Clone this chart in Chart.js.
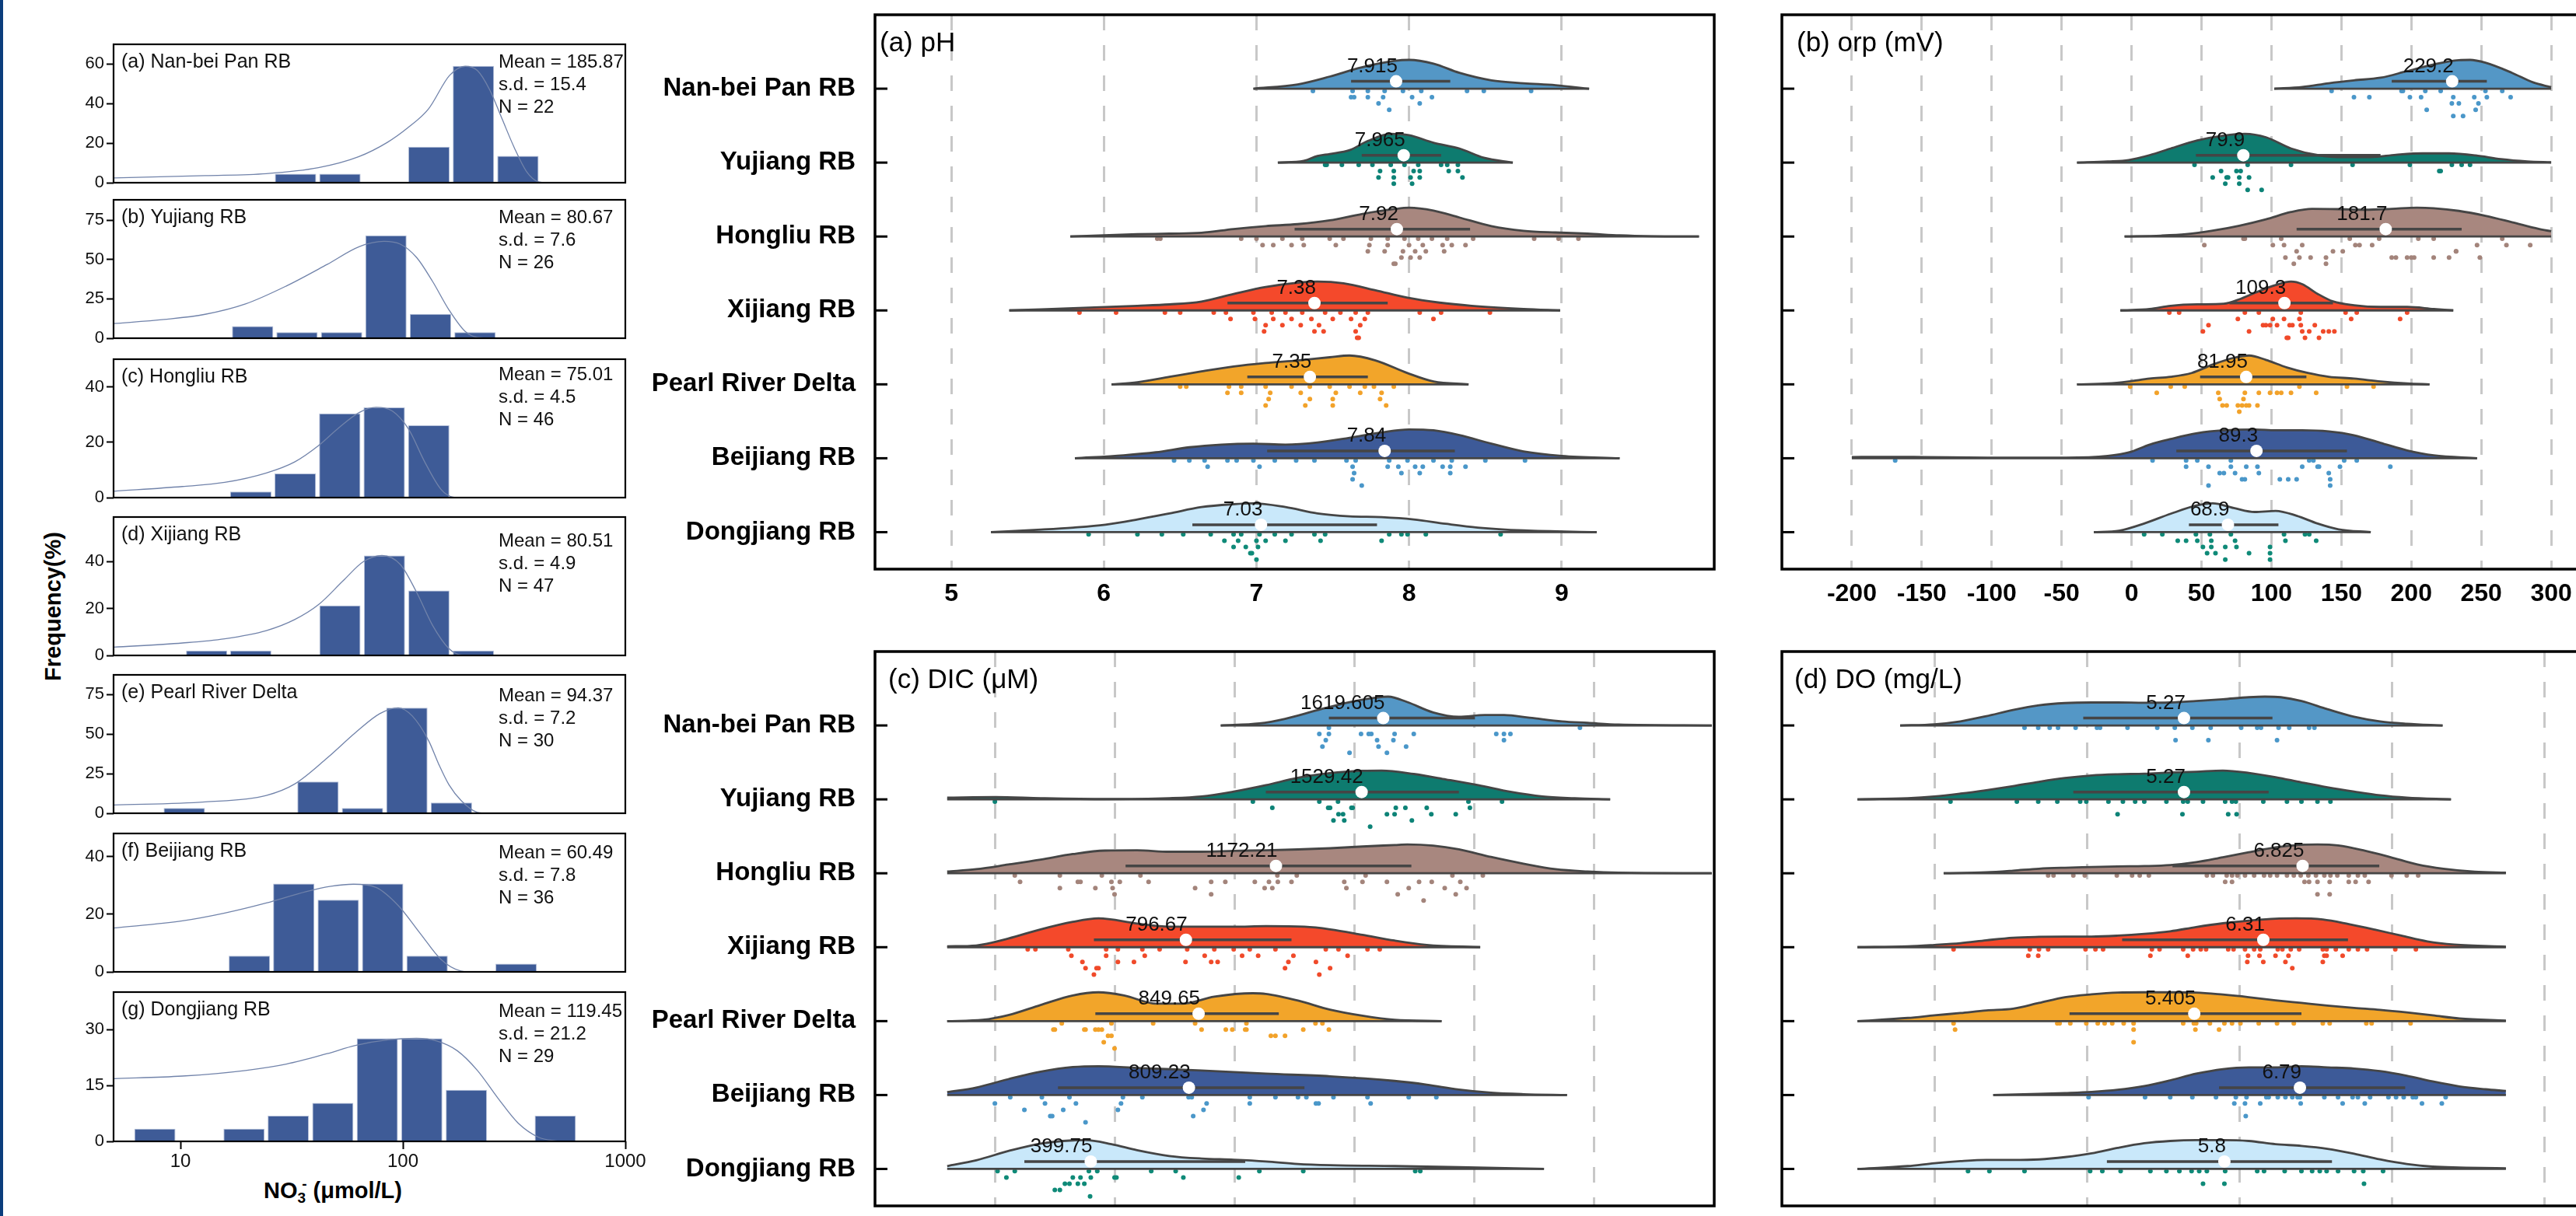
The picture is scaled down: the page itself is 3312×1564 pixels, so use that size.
<!DOCTYPE html>
<html><head><meta charset="utf-8">
<script src="https://cdn.jsdelivr.net/npm/chart.js@4.4.1/dist/chart.umd.min.js"></script>
<style>
html,body{margin:0;padding:0;width:3312px;height:1564px;overflow:hidden;background:#fff;font-family:"Liberation Sans",Arial,sans-serif;}
#band{position:absolute;left:0;top:0;width:4px;height:1564px;background:#0b3d7c;}
#ylab{position:absolute;left:68px;top:780px;transform:translate(-50%,-50%) rotate(-90deg);font-weight:bold;font-size:29px;white-space:nowrap;color:#000;}
#xlab{position:absolute;left:428px;top:1532px;transform:translate(-50%,-50%);font-weight:bold;font-size:29px;white-space:nowrap;color:#000;}
#xlab sub{font-size:19px;vertical-align:-6px;}
#xlab sup{font-size:19px;vertical-align:12px;margin-left:-5px;}
</style></head>
<body>
<div id="band"></div>
<div id="ylab">Frequency(%)</div>
<div id="xlab">NO<sub>3</sub><sup>-</sup> (μmol/L)</div>
<script>
// ---------------- DATA ----------------
const regions = ['Nan-bei Pan RB','Yujiang RB','Hongliu RB','Xijiang RB','Pearl River Delta','Beijiang RB','Dongjiang RB'];
const panelTitles = ['(a) pH','(b) orp (mV)','(c) DIC (μM)','(d) DO (mg/L)'];

// Histograms of NO3- (log bins), percent of samples
const histTitles = ['(a) Nan-bei Pan RB','(b) Yujiang RB','(c) Hongliu RB','(d) Xijiang RB','(e) Pearl River Delta','(f) Beijiang RB','(g) Dongjiang RB'];
const histMean = ['185.87','80.67','75.01','80.51','94.37','60.49','119.45'];
const histSD = ['15.4','7.6','4.5','4.9','7.2','7.8','21.2'];
const histN = [22,26,46,47,30,36,29];
const histBinX = [
 [32.9,52.1,130.9,207.5,328.9],
 [21.1,33.4,53.0,83.9,133.0,210.9],
 [20.7,32.8,52.0,82.4,130.6],
 [13.1,20.7,52.1,82.6,130.9,207.5],
 [10.4,41.5,65.8,104.2,165.2],
 [20.4,32.3,51.2,81.1,128.5,322.8],
 [7.67,19.3,30.5,48.4,76.7,121.6,192.8,484.2]
];
const histPct = [
 [4.5,4.5,18.2,59.1,13.6],
 [7.7,3.8,3.8,65.4,15.4,3.8],
 [2.2,8.7,30.4,32.6,26.1],
 [2.1,2.1,21.3,42.6,27.7,2.1],
 [3.3,20.0,3.3,66.7,6.7],
 [5.6,30.6,25.0,30.6,5.6,2.8],
 [3.4,3.4,6.9,10.3,27.6,27.6,13.8,6.9]
];
const histCurveX = [
 [5,12.9,24.3,41.7,63.1,85.1,104.7,130.3,162.2,190.5,216.3,245.5,278.6,316.2,358.9,407.4,436.5],
 [5,8.43,12.9,19.6,29.9,45.6,63.8,82.2,97.3,115.1,135.8,161.1,190.5,216.3,245.5],
 [5,10.2,15.8,24.3,32.6,41.9,51.6,63.8,75.7,89.5,105.9,125.3,148.3,167.9,182],
 [5,10.2,15.8,24.3,32.6,41.9,53.8,66.5,80.5,97.3,115.1,135.8,161.1,182,199.5],
 [5,12.9,24.3,32.6,45.7,61.2,78.7,95.3,110.2,130.6,144.9,161.1,182.8,216.3,234.4],
 [5,10.2,15.8,24.3,36.9,47.5,60.0,75.7,95.3,120,148.3,182,204],
 [5,10.2,19.6,29.9,45.6,61.2,85.7,115.1,141.9,175.4,216.3,267.3,329.6,407.4,501.2]
];
const histCurveY = [
 [2.4,3.6,4.6,7.6,13.1,20.4,27.6,37.3,54.3,58.9,56.7,47,32.5,17.9,5.8,0.4,0],
 [9.3,11.9,15.2,21.8,33.2,46.9,58.3,61.6,59.8,51.4,36.2,18,4.3,0.5,0],
 [2.3,4.0,5.5,8.9,12.9,18.9,25.3,30.8,32.6,31.3,24.8,12.9,3.0,0.2,0],
 [3.5,5.3,7.1,10.6,15.3,21.8,31.8,40,42.6,38.8,27,12.9,2.9,0.2,0],
 [5.2,7.2,11.3,18.5,35,51,63,66.7,61.5,45.8,31,18,8,0.5,0],
 [15.2,17.7,20.4,23.9,27.9,29.7,30.4,29.3,23,13.2,4.3,0.3,0],
 [16.8,17.5,19,20.7,23.5,25.7,27.2,27.6,26.9,24.3,19,11.6,4.9,1.1,0]
];
const histYMax = [70,88,50,59,87.5,48,40];
const histYTicks = [[0,20,40,60],[0,25,50,75],[0,20,40],[0,20,40],[0,25,50,75],[0,20,40],[0,15,30]];
const histXTicks = [10,100,1000];

// ---- (a) pH ----
const phTicks = [5,6,7,8,9];
const phMedian = [7.915,7.965,7.92,7.38,7.35,7.84,7.03];
const phBox = [[7.62,8.27],[7.69,8.21],[7.25,8.40],[6.81,7.86],[6.94,7.73],[7.07,8.30],[6.58,7.79]];
const phKde = [
 [[6.98,0],[7.27,0.15],[7.48,0.42],[7.69,0.74],[7.90,0.96],[8.00,1],[8.16,0.87],[8.33,0.55],[8.54,0.29],[8.75,0.19],[8.96,0.12],[9.18,0]],
 [[7.14,0],[7.31,0.06],[7.40,0.23],[7.48,0.30],[7.61,0.43],[7.73,0.75],[7.88,1],[8.00,0.95],[8.16,0.69],[8.33,0.49],[8.49,0.17],[8.68,0]],
 [[5.78,0],[6.22,0.08],[6.43,0.10],[6.64,0.13],[6.85,0.26],[7.06,0.36],[7.27,0.43],[7.48,0.56],[7.69,0.78],[7.90,0.95],[8.00,1],[8.16,0.9],[8.33,0.66],[8.54,0.36],[8.75,0.2],[8.96,0.14],[9.17,0.1],[9.38,0.04],[9.59,0.01],[9.90,0]],
 [[5.38,0],[5.80,0.08],[6.22,0.16],[6.43,0.21],[6.64,0.31],[6.85,0.57],[7.06,0.81],[7.27,0.96],[7.40,1],[7.57,0.94],[7.78,0.70],[7.99,0.44],[8.20,0.27],[8.41,0.16],[8.75,0.05],[8.99,0]],
 [[6.05,0],[6.22,0.07],[6.43,0.26],[6.64,0.45],[6.85,0.62],[7.06,0.74],[7.27,0.83],[7.48,0.94],[7.61,1],[7.78,0.83],[7.99,0.39],[8.16,0.10],[8.39,0]],
 [[5.81,0],[6.13,0.1],[6.34,0.2],[6.56,0.37],[6.77,0.46],[6.98,0.49],[7.19,0.46],[7.40,0.53],[7.61,0.69],[7.82,0.87],[8.00,0.97],[8.16,0.94],[8.33,0.78],[8.54,0.49],[8.75,0.23],[9.00,0.08],[9.38,0]],
 [[5.26,0],[5.59,0.09],[5.80,0.16],[6.01,0.26],[6.22,0.44],[6.43,0.65],[6.64,0.87],[6.85,0.97],[6.98,1],[7.19,0.87],[7.40,0.65],[7.61,0.55],[7.82,0.52],[8.03,0.44],[8.24,0.29],[8.45,0.16],[8.75,0.06],[9.23,0]]
];
const phDots = [
 [[7.37,7.63,7.73,7.84,7.96,8.08,8.38,8.49,8.80],[7.62,7.64,7.73,7.83,8.02,8.15],[7.80,8.07],[7.87]],
 [[7.45,7.46,7.56,7.67,7.76,7.88,7.97,8.06,8.21,8.25,8.32],[7.81,7.90,8.03,8.07,8.26,8.32],[7.80,7.90,8.01,8.07,8.35],[7.90,8.02]],
 [[6.35,6.37,6.90,7.00,7.17,7.30,7.48,7.57,7.75,7.86,7.97,8.06,8.15,8.25,8.42,8.82,8.98,9.11],[7.04,7.11,7.23,7.31,7.52,7.74,7.86,8.00,8.09,8.22,8.28,8.37],[7.73,7.84,7.96,8.04,8.11,8.23],[7.95,8.01,8.07],[7.90,7.91]],
 [[5.84,6.08,6.40,6.50,6.72,6.80,6.98,7.10,7.19,7.30,7.45,7.55,7.65,7.73,8.07,8.21,8.53],[6.83,6.99,7.11,7.23,7.36,7.50,7.62,7.71,8.16],[7.06,7.17,7.29,7.41,7.68],[7.05,7.38,7.44,7.65],[7.67,7.66]],
 [[6.50,6.54,6.82,6.90,7.06,7.23,7.35,7.48,7.61,7.71,7.77,7.90],[6.81,6.90,7.09,7.29,7.52,7.68,7.82],[7.08,7.35,7.50,7.81],[7.06,7.32,7.50,7.85]],
 [[6.46,6.56,6.66,6.81,6.87,6.98,7.12,7.26,7.38,7.59,7.65,7.87,7.99,8.16,8.28,8.50,8.76],[6.68,7.02,7.63,7.86,7.93,8.04,8.09,8.22,8.27,8.37],[7.64,7.95,8.07,8.27],[7.63],[7.69]],
 [[5.90,6.22,6.38,6.52,6.70,6.85,6.90,7.02,7.12,7.23,7.38,7.45,7.87,7.95,7.99,8.11,8.60],[6.79,6.88,7.00,7.06,7.19,7.42,7.82],[6.85,6.93,7.01],[6.96,6.97],[7.00]]
];

// ---- (b) orp (mV) ----
const orpTicks = [-200,-150,-100,-50,0,50,100,150,200,250,300];
const orpMedian = [229.2,79.9,181.7,109.3,81.95,89.3,68.9];
const orpBox = [[186,254],[46,178],[118,236],[70,144],[49,125],[32,154],[41,105]];
const orpKde = [
 [[102,0],[122,0.06],[141,0.19],[159,0.29],[178,0.38],[197,0.61],[216,0.84],[234,0.99],[242,1],[253,0.9],[272,0.55],[287,0.22],[300,0.05]],
 [[-39,0],[-17,0.04],[-2,0.09],[13,0.26],[28,0.49],[47,0.77],[66,0.94],[81,1],[96,0.88],[114,0.49],[133,0.26],[152,0.19],[171,0.19],[189,0.27],[208,0.32],[227,0.32],[246,0.25],[264,0.12],[283,0.04],[300,0.01]],
 [[-5,0],[21,0.03],[39,0.08],[58,0.2],[77,0.37],[96,0.59],[114,0.84],[129,0.95],[148,0.94],[167,0.92],[186,0.95],[204,0.99],[216,0.97],[234,0.88],[253,0.71],[272,0.49],[291,0.26],[300,0.18]],
 [[-8,0],[13,0.05],[28,0.16],[47,0.21],[66,0.23],[77,0.38],[88,0.6],[103,0.87],[114,0.99],[122,0.9],[133,0.57],[144,0.31],[159,0.18],[178,0.12],[197,0.12],[216,0.05],[230,0]],
 [[-39,0],[-17,0.03],[-2,0.1],[13,0.2],[28,0.26],[43,0.39],[58,0.68],[73,0.91],[84,0.99],[96,0.84],[111,0.58],[126,0.39],[141,0.26],[159,0.2],[178,0.1],[197,0.03],[213,0]],
 [[-200,0.04],[-178,0.05],[-148,0.04],[-103,0.02],[-47,0.02],[-17,0.08],[-2,0.2],[13,0.47],[28,0.66],[47,0.86],[66,0.96],[88,0.99],[103,0.96],[122,0.96],[141,0.92],[159,0.79],[178,0.53],[197,0.27],[216,0.1],[247,0]],
 [[-27,0],[-9,0.05],[9,0.3],[28,0.64],[47,0.93],[58,1],[73,0.84],[88,0.7],[103,0.74],[118,0.57],[133,0.3],[148,0.1],[171,0]]
];
const orpDots = [
 [[143,193,194,210,221,253,265],[159,170,199,207,230,245,254,271],[229,234,248],[211,246],[230,237]],
 [[45,83,114,158,199,229,236,242],[64,75,78,220,221],[68,84,77,58,69],[67,77],[83,93]],
 [[80,81,107,156,177,205,216,265],[52,101,109,122,160,163,172,247,268,285],[118,144,151,232,232],[110,120,128,139,186,189,197,200,202,216,227,249],[116,139]],
 [[27,34,81,91,153,161,197,121],[76,101,109,120,157,192],[55,94,96,99,104,113,115,121,131],[51,84,122,127,137,141,145],[111,124,134,112]],
 [[-1,28,38,120,154,173],[18,62,81,91,99,104,107,114,132],[63,80],[65,68,79,82,84,90,76],[77]],
 [[-169,15,39,47,71,127,130,152,161],[39,55,71,82,90,122,133,134,149,185],[63,66,74,91,141],[79,81,106,112,118,142],[55,142]],
 [[9,22,46,56,71,109,124,127],[33,39,47,57,74,110,132],[51,57,67,75,99],[54,60,84,99],[67,99]]
];

// ---- (c) DIC (μM) ----
const dicTicks = [0,500,1000,1500,2000,2500];
const dicMedian = [1619.605,1529.42,1172.21,796.67,849.65,809.23,399.75];
const dicBox = [[1393,2002],[1130,1935],[545,1737],[413,1237],[419,1184],[263,1291],[123,1044]];
const dicKde = [
 [[942,0],[1103,0.07],[1210,0.23],[1345,0.53],[1479,0.81],[1586,0.96],[1640,1],[1720,0.81],[1828,0.45],[1935,0.3],[2043,0.36],[2123,0.36],[2230,0.27],[2365,0.14],[2472,0.09],[2601,0.03],[2990,0]],
 [[-199,0.06],[3,0.08],[191,0.04],[459,0.01],[727,0.04],[862,0.1],[996,0.27],[1130,0.49],[1264,0.75],[1398,0.91],[1533,0.99],[1613,1],[1747,0.88],[1882,0.69],[2016,0.49],[2150,0.26],[2284,0.1],[2418,0.04],[2566,0]],
 [[-199,0.06],[-78,0.14],[56,0.3],[191,0.47],[325,0.66],[459,0.78],[593,0.79],[727,0.74],[862,0.74],[996,0.77],[1130,0.79],[1264,0.82],[1398,0.86],[1533,0.92],[1667,0.97],[1720,0.99],[1828,0.95],[1935,0.82],[2069,0.56],[2204,0.33],[2338,0.14],[2472,0.06],[2601,0.02],[2990,0]],
 [[-199,0.03],[-78,0.06],[56,0.3],[191,0.62],[325,0.88],[432,1],[593,0.82],[727,0.71],[862,0.71],[996,0.71],[1130,0.73],[1291,0.71],[1398,0.62],[1533,0.43],[1667,0.23],[1801,0.08],[2024,0]],
 [[-199,0],[-51,0.04],[56,0.19],[191,0.51],[325,0.81],[432,0.91],[539,0.81],[674,0.55],[781,0.55],[915,0.77],[1076,0.88],[1130,0.86],[1264,0.65],[1398,0.36],[1533,0.17],[1667,0.04],[1863,0]],
 [[-199,0.1],[-78,0.26],[56,0.55],[191,0.81],[325,0.97],[432,1],[593,0.94],[862,0.85],[1130,0.74],[1398,0.65],[1667,0.49],[1801,0.36],[1935,0.19],[2069,0.08],[2204,0.03],[2386,0]],
 [[-199,0.1],[-78,0.3],[56,0.62],[191,0.88],[325,0.99],[378,1],[486,0.86],[593,0.65],[727,0.45],[862,0.36],[996,0.32],[1130,0.26],[1264,0.17],[1398,0.13],[1667,0.1],[1935,0.06],[2290,0]]
];
const dicDots = [
 [[1393,2440],[1353,1393,1527,1559,1570,1667,1747,2091,2123,2150],[1380,1594,1662,2123],[1366,1600,1715],[1479,1635]],
 [[0,1076,1353,1431,1975,2115],[1157,1398,1390,1487,1492,1672,1712,1801,1981],[1433,1452,1635,1667,1820,1922],[1457,1412,1739],[1565]],
 [[83,271,446,607,1178,1259,1546,1908,2035],[105,346,357,486,521,641,902,961,1084,1143,1180,1237,1457,1533,1635,1769,1822,1941],[271,419,491,835,1125,1157,1466,1726,1876,1967],[499,902,1680,1922],[1788]],
 [[137,169,306,464,513,615,687,802,915,996,1063,1170,1380,1433,1554,1605],[319,464,625,875,1031,1098,1245,1471],[365,513,580,795,902,929,1224,1339],[378,424,432,1210,1398],[413,1353]],
 [[279,486,660,835,1049,1337,1366],[250,244,373,378,419,446,432,862,963,990,1044,1049,1286,1393],[472,486,1151,1170,1210],[454],[499]],
 [[64,196,311,534,615,808,821,1063,1170,1264,1299,1412,1554,1726,1841],[0,209,338,526,883,1063,1339,1350,1567],[123,285,513,870],[231,239,827],[378]],
 [[11,83,392,427,652,754,1103,1286,1753,1774],[48,325,357,400,499,507,786,1017],[292,311,346,373],[250,271],[397]]
];

// ---- (d) DO (mg/L) ----
const doTicks = [2,4,6,8,10];
const doMedian = [5.27,5.27,6.825,6.31,5.405,6.79,5.8];
const doBox = [[3.95,6.43],[3.82,6.38],[5.12,7.83],[4.46,7.42],[3.77,6.81],[5.73,8.17],[4.26,7.21]];
const doKde = [
 [[1.55,0],[2.0,0.04],[2.34,0.14],[2.68,0.32],[3.03,0.53],[3.37,0.69],[3.71,0.77],[4.06,0.79],[4.40,0.79],[4.75,0.78],[5.09,0.79],[5.43,0.84],[5.78,0.9],[6.12,0.97],[6.33,0.99],[6.54,0.97],[6.81,0.84],[7.15,0.56],[7.50,0.3],[7.84,0.14],[8.19,0.06],[8.66,0]],
 [[0.99,0],[1.65,0.04],[2.0,0.1],[2.34,0.2],[2.68,0.32],[3.03,0.46],[3.37,0.61],[3.71,0.74],[4.06,0.83],[4.40,0.87],[4.75,0.89],[5.09,0.93],[5.43,0.96],[5.78,1],[6.12,0.92],[6.47,0.77],[6.81,0.59],[7.15,0.42],[7.50,0.27],[7.84,0.14],[8.19,0.06],[8.77,0]],
 [[2.12,0],[2.68,0.03],[3.03,0.08],[3.37,0.14],[3.71,0.17],[4.06,0.19],[4.40,0.21],[4.75,0.22],[5.09,0.25],[5.43,0.34],[5.78,0.49],[6.12,0.64],[6.47,0.79],[6.81,0.87],[7.02,0.88],[7.29,0.85],[7.64,0.69],[7.98,0.49],[8.33,0.27],[8.67,0.14],[9.08,0.05],[9.49,0.02]],
 [[0.99,0],[1.65,0.03],[2.0,0.08],[2.34,0.14],[2.68,0.24],[3.03,0.33],[3.37,0.36],[3.71,0.37],[4.06,0.37],[4.40,0.4],[4.75,0.46],[5.09,0.55],[5.43,0.7],[5.78,0.83],[6.12,0.92],[6.47,0.99],[6.74,1],[7.09,0.96],[7.43,0.8],[7.77,0.61],[8.12,0.4],[8.46,0.2],[8.81,0.09],[9.49,0.02]],
 [[0.99,0],[1.65,0.11],[2.0,0.2],[2.34,0.28],[2.68,0.37],[3.03,0.43],[3.37,0.63],[3.71,0.83],[4.06,0.93],[4.40,0.99],[4.75,1],[5.09,1],[5.43,0.99],[5.78,0.92],[6.12,0.83],[6.47,0.72],[6.81,0.63],[7.15,0.54],[7.50,0.46],[7.84,0.39],[8.19,0.3],[8.53,0.2],[8.88,0.09],[9.49,0.02]],
 [[2.77,0],[3.37,0.04],[3.71,0.07],[4.06,0.11],[4.40,0.18],[4.75,0.31],[5.09,0.51],[5.43,0.74],[5.78,0.9],[6.12,0.96],[6.47,0.96],[6.81,1],[7.15,0.96],[7.50,0.92],[7.84,0.83],[8.19,0.67],[8.53,0.47],[8.88,0.3],[9.22,0.2],[9.49,0.14]],
 [[0.99,0],[1.65,0.1],[2.0,0.2],[2.34,0.27],[2.68,0.31],[3.03,0.31],[3.37,0.33],[3.71,0.41],[4.06,0.54],[4.40,0.73],[4.75,0.89],[5.09,0.97],[5.43,1],[5.78,1],[6.12,0.97],[6.47,0.86],[6.81,0.8],[7.15,0.7],[7.50,0.53],[7.84,0.33],[8.19,0.17],[8.53,0.08],[9.49,0.02]]
];
const doDots = [
 [[3.18,3.36,3.51,3.62,3.85,4.13,4.17,4.53,4.92,5.15,5.38,5.62,6.02,6.23,6.28,6.51,6.65,6.91,6.98],[],[5.16,5.59,6.49]],
 [[2.21,3.08,3.36,3.61,3.91,3.99,4.28,4.47,4.63,4.75,5.04,5.26,5.32,5.52,5.81,5.90,5.95,6.31,6.62,6.81,7.02,7.19],[],[4.40,5.25,5.85,5.96]],
 [[3.49,3.56,3.82,3.97,4.39,4.59,4.69,4.81,5.57,5.65,5.83,5.90,5.97,6.07,6.19,6.32,6.40,6.49,6.62,6.71,6.80,6.90,7.00,7.11,7.19,7.28,7.43,7.55,7.64,7.99,8.19,8.34],[5.81,5.90,6.85,6.91,7.02,7.18,7.43,7.52,7.69],[],[7.02,7.18]],
 [[2.25,3.25,3.37,3.49,3.98,4.11,4.21,4.85,4.95,5.26,5.39,5.49,5.56,5.85,5.92,6.07,6.19,6.27,6.50,6.56,6.67,6.78,7.09,7.14,7.26,7.43,7.55,7.67,8.04,8.31],[3.23,3.36,4.83,5.32,6.11,6.26,6.47,6.64,7.11,7.14,7.35],[6.10,6.31,6.60,7.09],[6.69]],
 [[2.25,3.61,3.64,3.78,3.99,4.14,4.23,4.33,4.48,4.61,5.26,5.40,5.43,5.61,5.80,5.90,6.01,6.25,6.49,6.71,7.09,7.18,7.66,7.73,8.24],[2.27,4.61,5.42,5.73],[],[4.61]],
 [[4.02,4.76,5.09,5.38,5.69,5.95,6.09,6.35,6.38,6.50,6.60,6.69,6.76,6.79,7.11,7.29,7.48,7.55,7.71,7.95,8.05,8.15,8.27,8.31,8.70],[5.93,6.07,6.27,6.80,7.35,7.64,8.39,8.65],[],[6.08]],
 [[2.44,2.72,3.18,4.04,4.20,4.44,4.83,5.04,5.21,5.37,5.47,5.57,5.81,6.23,6.32,6.59,6.81,6.95,7.05,7.14,7.29,7.50,7.62,7.88],[],[5.52,5.80,7.63]]
];

// ---------------- STYLE ----------------
const FONT = '"Liberation Sans", Arial, sans-serif';
Chart.defaults.font.family = FONT;
const fillColors = ['#5497c6','#0e7b6f','#a8877f','#f4492b','#f2a52a','#3d5a98','#c9e8fa'];
const dotColors  = ['#4a97c9','#0d8377','#a3847b','#f04a2a','#f2a22a','#4a97c9','#0f8a78'];
const OUTLINE = '#454545';
const VH = 0.39;      // violin height in row units
const JIT0 = 0.03, JITSTEP = 0.085;

function mkCanvas(L,T,W,H){
  const c=document.createElement('canvas');
  c.width=W; c.height=H;
  c.style.cssText=`position:absolute;left:${L}px;top:${T}px;width:${W}px;height:${H}px;`;
  document.body.appendChild(c); return c;
}
function noPadY(s){ s.paddingTop=0; s.paddingBottom=0; }
function noPadX(s){ s.paddingLeft=0; s.paddingRight=0; }

const framePlugin = {
  id:'frame',
  afterDraw(chart, args, o){
    const ctx=chart.ctx, a=chart.chartArea;
    ctx.save();
    ctx.strokeStyle='#000'; ctx.lineWidth=o.width;
    ctx.strokeRect(a.left, a.top, a.right-a.left, a.bottom-a.top);
    if (o.inTicks){
      const ys=chart.scales.y; ctx.lineWidth=3;
      ys.ticks.forEach(t=>{ const py=ys.getPixelForValue(t.value); ctx.beginPath(); ctx.moveTo(a.left,py); ctx.lineTo(a.left+16,py); ctx.stroke(); });
    }
    if (o.title){
      ctx.fillStyle='#000'; ctx.font='35px '+FONT; ctx.textAlign='left'; ctx.textBaseline='middle';
      ctx.fillText(o.title, a.left+o.tdx, a.top+37);
    }
    ctx.restore();
  }
};
const medLabelPlugin = {
  id:'medlab',
  afterDatasetsDraw(chart, args, o){
    const ctx=chart.ctx, xs=chart.scales.x, ys=chart.scales.y;
    ctx.save();
    ctx.font='26px '+FONT; ctx.fillStyle='#111'; ctx.textAlign='right'; ctx.textBaseline='middle';
    o.values.forEach((v,i)=>{ ctx.fillText(String(v), xs.getPixelForValue(v)+2, ys.getPixelForValue(i-0.1)-19); });
    ctx.restore();
  }
};
const histText = {
  id:'htext',
  afterDraw(chart, args, o){
    const ctx=chart.ctx, a=chart.chartArea;
    ctx.save(); ctx.fillStyle='#111'; ctx.textBaseline='middle'; ctx.textAlign='left';
    ctx.font='25px '+FONT; ctx.fillText(o.title, a.left+10, a.top+23);
    ctx.font='24px '+FONT;
    o.lines.forEach((t,k)=>ctx.fillText(t, o.sx, a.top+o.dy+29*k));
    ctx.restore();
  }
};

function violinDatasets(kde, box, med, dots){
  const ds=[];
  for (let r=0;r<7;r++){
    const mx=Math.max(...kde[r].map(p=>p[1]));
    ds.push({type:'line', data:kde[r].map(p=>({x:p[0], y:r-VH*p[1]/mx})), borderColor:OUTLINE, borderWidth:2.8,
      backgroundColor:fillColors[r], fill:{value:r}, pointRadius:0, cubicInterpolationMode:'monotone', order:5});
    ds.push({type:'line', data:[{x:kde[r][0][0], y:r},{x:kde[r][kde[r].length-1][0], y:r}], borderColor:OUTLINE, borderWidth:2.8, pointRadius:0, fill:false, order:3});
    const pts=[]; dots[r].forEach((lv,li)=>lv.forEach(v=>pts.push({x:v, y:r+JIT0+JITSTEP*li})));
    ds.push({type:'scatter', data:pts, backgroundColor:dotColors[r], borderWidth:0, pointRadius:3, order:4});
    ds.push({type:'line', data:[{x:box[r][0], y:r-0.1},{x:box[r][1], y:r-0.1}], borderColor:OUTLINE, borderWidth:3.5, pointRadius:0, fill:false, order:2});
    ds.push({type:'scatter', data:[{x:med[r], y:r-0.1}], backgroundColor:'#ffffff', borderColor:'#ffffff', borderWidth:0, pointRadius:8, order:1});
  }
  return ds;
}

function violinPanel(g, title, tdx, xMin, xMax, xTicks, showX, showY, kde, box, med, dots){
  const cv=mkCanvas(g.L,g.T,g.W,g.H);
  new Chart(cv,{
    type:'scatter',
    data:{datasets:violinDatasets(kde,box,med,dots)},
    options:{
      responsive:false, animation:false, events:[],
      layout:{padding:{top:g.AT-g.T, right:g.L+g.W-g.AR, left:0, bottom:0}},
      plugins:{legend:{display:false}, tooltip:{enabled:false}, frame:{width:3.5, inTicks:true, title:title, tdx:tdx}, medlab:{values:med}},
      scales:{
        x:{type:'linear', min:xMin, max:xMax,
           afterBuildTicks:s=>{s.ticks=xTicks.map(v=>({value:v}));},
           afterFit:s=>{s.height=g.T+g.H-g.AB; noPadX(s);},
           grid:{color:'#c8c8c8', lineWidth:3, drawTicks:false},
           border:{display:false, dash:[20,19]},
           ticks:{display:showX, font:{size:32, weight:'bold'}, color:'#000', padding:13, autoSkip:false, maxRotation:0}},
        y:{type:'linear', reverse:true, min:-1, max:6.5,
           afterBuildTicks:s=>{s.ticks=[0,1,2,3,4,5,6].map(v=>({value:v}));},
           afterFit:s=>{s.width=g.AL-g.L; noPadY(s);},
           grid:{display:false}, border:{display:false},
           ticks:{display:showY, callback:v=>regions[v], font:{size:33, weight:'bold'}, color:'#000', padding:17, autoSkip:false}}
      }
    },
    plugins:[framePlugin, medLabelPlugin]
  });
}

// layout of the four violin panels
violinPanel({L:820,T:0,W:1394,H:800,AL:1125,AR:2204,AT:19,AB:732}, panelTitles[0], 6, 4.5, 10, phTicks, true, true, phKde, phBox, phMedian, phDots);
violinPanel({L:2200,T:0,W:1180,H:800,AL:2291,AR:3370,AT:19,AB:732}, panelTitles[1], 19, -250, 350, orpTicks, true, false, orpKde, orpBox, orpMedian, orpDots);
violinPanel({L:820,T:820,W:1394,H:744,AL:1125,AR:2204,AT:838,AB:1551}, panelTitles[2], 17, -500, 3000, dicTicks, false, true, dicKde, dicBox, dicMedian, dicDots);
violinPanel({L:2200,T:820,W:1180,H:744,AL:2291,AR:3370,AT:838,AB:1551}, panelTitles[3], 16, 0, 11, doTicks, false, false, doKde, doBox, doMedian, doDots);

// histogram panels
const histTop=[57,257,462,665,868,1072,1276];
const statsDy=[23,23,20,31,27,25,25];
for (let i=0;i<7;i++){
  const top=histTop[i], last=(i===6);
  const T=top-14, H= last ? 1524-T : 192+28;
  const cv=mkCanvas(0,T,840,H);
  new Chart(cv,{
    type:'bar',
    data:{datasets:[
      {type:'line', data:histCurveX[i].map((x,k)=>({x, y:histCurveY[i][k]})), borderColor:'#7183aa', borderWidth:1.3, pointRadius:0, cubicInterpolationMode:'monotone', fill:false, order:0},
      {type:'bar', data:histBinX[i].map((x,k)=>({x, y:histPct[i][k]})), backgroundColor:'#3e5b97', borderColor:'#b4bfd8', borderWidth:1, barPercentage:0.93, categoryPercentage:1, order:1}
    ]},
    options:{
      responsive:false, animation:false, events:[],
      layout:{padding:{top:14, bottom: last?0:14, left:0, right:840-804}},
      plugins:{legend:{display:false}, tooltip:{enabled:false}, frame:{width:2.2, inTicks:false},
        htext:{title:histTitles[i], lines:['Mean = '+histMean[i], 's.d. = '+histSD[i], 'N = '+histN[i]], sx:641, dy:statsDy[i]}},
      scales:{
        x:{type:'logarithmic', min:5, max:1000, offset:false, display:last,
           afterBuildTicks:s=>{s.ticks=histXTicks.map(v=>({value:v}));},
           afterFit:s=>{s.height=T+H-(top+192); noPadX(s);},
           grid:{display:true, offset:false, drawOnChartArea:false, drawTicks:true, tickLength:10, tickWidth:2, tickColor:'#000'},
           border:{display:false},
           ticks:{font:{size:24}, color:'#111', padding:2, callback:v=>String(v), autoSkip:false, maxRotation:0}},
        y:{min:0, max:histYMax[i],
           afterBuildTicks:s=>{s.ticks=histYTicks[i].map(v=>({value:v}));},
           afterFit:s=>{s.width=146; noPadY(s);},
           grid:{drawOnChartArea:false, drawTicks:true, tickLength:9, tickWidth:2, tickColor:'#000'},
           border:{display:false},
           ticks:{font:{size:22}, color:'#111', padding:3}}
      }
    },
    plugins:[framePlugin, histText]
  });
}
</script>
</body></html>
